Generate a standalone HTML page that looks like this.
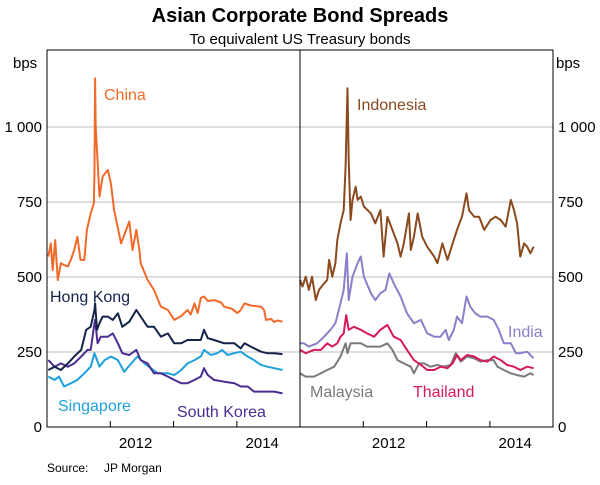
<!DOCTYPE html>
<html><head><meta charset="utf-8"><style>
body{margin:0;background:#fff;}
svg text{font-family:"Liberation Sans",Arial,sans-serif;}
</style></head><body>
<svg id="chart" width="600" height="480" xmlns="http://www.w3.org/2000/svg">
<text x="300" y="22" text-anchor="middle" font-size="20" font-weight="bold">Asian Corporate Bond Spreads</text>
<text x="300" y="44" text-anchor="middle" font-size="15">To equivalent US Treasury bonds</text>
<text x="13" y="68" font-size="15">bps</text>
<text x="556" y="68" font-size="15">bps</text>
<text x="47" y="472" font-size="12">Source:</text>
<text x="104" y="472" font-size="12">JP Morgan</text>
<g id="grid"></g>
<g id="series"></g>
<rect x="47" y="50" width="506" height="377" fill="none" stroke="#000" stroke-width="1"/>
<line x1="300" y1="50" x2="300" y2="427" stroke="#000" stroke-width="1"/>
<g id="labels"></g>
</svg>
<script>
const yTicks=[0,250,500,750,1000];
const yTickLabels=["0","250","500","750","1 000"];
const xTickYears=[2012,2013,2014];
const xLabels=["2012","2014"];
const xLabelYears=[2012.4,2014.4];

const chinaDates=[2011.02,2011.06,2011.09,2011.13,2011.17,2011.22,2011.27,2011.33,2011.38,2011.43,2011.48,2011.53,2011.59,2011.63,2011.69,2011.74,2011.75,2011.76,2011.77,2011.79,2011.83,2011.88,2011.96,2012.01,2012.06,2012.17,2012.22,2012.30,2012.35,2012.41,2012.46,2012.48,2012.59,2012.69,2012.80,2012.91,2013.01,2013.12,2013.22,2013.27,2013.33,2013.38,2013.43,2013.48,2013.54,2013.64,2013.75,2013.80,2013.91,2014.01,2014.06,2014.12,2014.22,2014.38,2014.43,2014.46,2014.54,2014.59,2014.64,2014.72];
const chinaValues=[568,612,523,623,490,546,540,535,560,590,634,557,557,657,712,745,850,1162,1000,923,768,835,857,812,723,612,640,685,590,657,590,546,490,457,401,390,357,370,390,375,412,380,430,435,420,423,415,401,395,380,390,412,405,401,390,357,360,350,355,351];

const hkDates=[2011.02,2011.12,2011.22,2011.33,2011.43,2011.54,2011.62,2011.69,2011.75,2011.76,2011.79,2011.83,2011.88,2011.96,2012.04,2012.12,2012.19,2012.30,2012.41,2012.48,2012.59,2012.69,2012.80,2012.91,2013.01,2013.12,2013.22,2013.33,2013.43,2013.48,2013.54,2013.64,2013.80,2013.96,2014.06,2014.12,2014.22,2014.38,2014.48,2014.59,2014.72];
const hkValues=[190,201,190,212,235,257,324,334,390,412,324,346,368,368,357,379,334,351,390,368,334,334,301,312,279,279,290,290,290,324,296,290,279,279,262,279,268,251,246,246,243];

const koreaDates=[2011.02,2011.12,2011.22,2011.33,2011.43,2011.54,2011.64,2011.69,2011.75,2011.76,2011.80,2011.85,2011.96,2012.04,2012.12,2012.19,2012.30,2012.41,2012.48,2012.59,2012.69,2012.80,2012.91,2013.01,2013.12,2013.22,2013.33,2013.43,2013.48,2013.54,2013.64,2013.80,2013.96,2014.06,2014.17,2014.27,2014.38,2014.48,2014.59,2014.72];
const koreaValues=[223,201,212,201,212,235,257,257,346,357,279,301,301,312,279,246,240,257,223,212,179,179,168,157,146,146,157,168,196,173,157,151,146,135,135,118,118,118,118,112];

const singaporeDates=[2011.02,2011.12,2011.19,2011.27,2011.38,2011.48,2011.59,2011.69,2011.75,2011.77,2011.83,2011.91,2012.01,2012.12,2012.22,2012.33,2012.43,2012.54,2012.64,2012.75,2012.91,2013.01,2013.12,2013.22,2013.33,2013.43,2013.48,2013.59,2013.69,2013.77,2013.85,2013.96,2014.06,2014.17,2014.27,2014.38,2014.48,2014.59,2014.72];
const singaporeValues=[168,157,168,135,146,157,179,201,246,235,201,223,235,223,184,212,235,212,196,179,179,173,190,212,223,235,257,240,246,257,240,246,251,235,223,207,201,196,190];

const indonesiaDates=[2011.00,2011.04,2011.09,2011.14,2011.19,2011.25,2011.30,2011.38,2011.43,2011.46,2011.51,2011.56,2011.59,2011.64,2011.69,2011.72,2011.75,2011.77,2011.80,2011.83,2011.88,2011.91,2011.96,2012.01,2012.12,2012.19,2012.27,2012.32,2012.38,2012.46,2012.54,2012.59,2012.64,2012.72,2012.75,2012.80,2012.86,2012.93,2013.01,2013.12,2013.17,2013.25,2013.33,2013.41,2013.48,2013.56,2013.63,2013.67,2013.75,2013.83,2013.91,2014.01,2014.09,2014.17,2014.25,2014.33,2014.38,2014.43,2014.48,2014.54,2014.59,2014.64,2014.69];
const indonesiaValues=[490,468,501,457,501,423,457,479,490,557,501,546,623,679,723,868,1129,890,690,757,801,757,768,735,712,679,723,568,701,657,612,568,612,712,590,634,712,634,601,568,546,612,557,612,657,701,779,723,701,701,657,690,701,690,668,757,723,679,568,612,601,579,601];

const indiaDates=[2011.00,2011.06,2011.14,2011.27,2011.38,2011.48,2011.56,2011.64,2011.69,2011.74,2011.77,2011.83,2011.91,2011.96,2012.01,2012.12,2012.19,2012.27,2012.35,2012.41,2012.48,2012.59,2012.69,2012.80,2012.91,2013.01,2013.12,2013.22,2013.30,2013.35,2013.43,2013.48,2013.56,2013.63,2013.69,2013.77,2013.85,2013.96,2014.06,2014.14,2014.22,2014.33,2014.41,2014.48,2014.59,2014.69];
const indiaValues=[279,279,268,279,301,324,346,412,457,579,423,501,546,568,501,446,423,446,457,512,479,435,379,346,357,312,301,301,324,290,324,368,346,435,401,379,368,368,357,324,279,279,246,246,251,229];

const thailandDates=[2011.00,2011.09,2011.22,2011.33,2011.43,2011.51,2011.59,2011.64,2011.69,2011.73,2011.77,2011.85,2011.96,2012.06,2012.17,2012.27,2012.38,2012.48,2012.59,2012.69,2012.80,2012.91,2013.01,2013.12,2013.22,2013.33,2013.41,2013.48,2013.54,2013.64,2013.75,2013.85,2013.96,2014.06,2014.17,2014.27,2014.38,2014.48,2014.59,2014.69];
const thailandValues=[257,246,257,257,279,268,279,301,312,373,324,334,324,312,301,324,340,301,290,257,223,207,190,190,201,196,212,240,223,240,235,223,218,235,223,207,201,190,201,196];

const malaysiaDates=[2011.00,2011.09,2011.22,2011.33,2011.43,2011.54,2011.64,2011.72,2011.75,2011.80,2011.88,2011.96,2012.06,2012.17,2012.27,2012.38,2012.46,2012.54,2012.64,2012.75,2012.80,2012.88,2012.96,2013.06,2013.17,2013.27,2013.38,2013.46,2013.54,2013.64,2013.75,2013.85,2013.96,2014.06,2014.12,2014.22,2014.33,2014.43,2014.54,2014.64,2014.69];
const malaysiaValues=[179,168,168,179,190,201,235,279,246,279,279,279,268,268,268,279,257,223,212,201,179,212,212,201,207,201,207,246,218,235,229,218,223,223,201,190,179,173,168,179,173];

const NS="http://www.w3.org/2000/svg";
const svg=document.getElementById('chart');
const PX_PER_YEAR=63.3, TOP=50, BOTTOM=427, YSCALE=0.3;
function yScale(v){return BOTTOM-v*YSCALE;}
function xLeft(t){return 47+(t-2011)*PX_PER_YEAR;}
function xRight(t){return 300+(t-2011)*PX_PER_YEAR;}
function mk(tag,parent){const e=document.createElementNS(NS,tag);parent.appendChild(e);return e;}

const grid=document.getElementById('grid');
yTicks.forEach((v,i)=>{
  if(v>0){
    const l=mk('line',grid);
    
    
    l.setAttribute('x1',47);l.setAttribute('x2',553);
    l.setAttribute('y1',yScale(v));l.setAttribute('y2',yScale(v));
    l.setAttribute('stroke','#bdbdbd');l.setAttribute('stroke-width','1');
  }
  const a=mk('text',svg);
  
  
  a.setAttribute('x',42);a.setAttribute('y',yScale(v)+5);
  a.setAttribute('text-anchor','end');a.setAttribute('font-size','15');
  a.textContent=yTickLabels[i];
  const b=mk('text',svg);
  
  
  b.setAttribute('x',558);b.setAttribute('y',yScale(v)+5);
  b.setAttribute('font-size','15');
  b.textContent=yTickLabels[i];
});
[xLeft,xRight].forEach(sx=>{
  xTickYears.forEach(yr=>{
    const t=mk('line',grid);
    
    
    t.setAttribute('x1',sx(yr));t.setAttribute('x2',sx(yr));
    t.setAttribute('y1',BOTTOM);t.setAttribute('y2',BOTTOM-6);
    t.setAttribute('stroke','#000');
  });
  xLabels.forEach((lab,i)=>{
    const t=mk('text',svg);
    
    
    t.setAttribute('x',sx(xLabelYears[i]));t.setAttribute('y',448);
    t.setAttribute('text-anchor','middle');t.setAttribute('font-size','15');
    t.textContent=lab;
  });
});

const seriesG=document.getElementById('series');
function drawSeries(name,dates,values,sx,color){
  const p=mk('path',seriesG);
  
  
  p.setAttribute('d',dates.map((t,i)=>(i?'L':'M')+sx(t).toFixed(1)+' '+yScale(values[i]).toFixed(1)).join(' '));
  p.setAttribute('fill','none');p.setAttribute('stroke',color);
  p.setAttribute('stroke-width','2');p.setAttribute('stroke-linejoin','round');
}
drawSeries('singapore',singaporeDates,singaporeValues,xLeft,'#1ea0dc');
drawSeries('south-korea',koreaDates,koreaValues,xLeft,'#4b2c91');
drawSeries('hong-kong',hkDates,hkValues,xLeft,'#14234a');
drawSeries('china',chinaDates,chinaValues,xLeft,'#f26a2a');
drawSeries('malaysia',malaysiaDates,malaysiaValues,xRight,'#7a7a7a');
drawSeries('thailand',thailandDates,thailandValues,xRight,'#d6195f');
drawSeries('india',indiaDates,indiaValues,xRight,'#8a7fc8');
drawSeries('indonesia',indonesiaDates,indonesiaValues,xRight,'#8b4a1e');

const lab=document.getElementById('labels');
[['China',104,100,'#f26a2a','label-china'],['Hong Kong',50,302,'#14234a','label-hong-kong'],['Singapore',58,411,'#1ea0dc','label-singapore'],['South Korea',177,417,'#4b2c91','label-south-korea'],['Indonesia',357,110,'#8b4a1e','label-indonesia'],['India',508,337,'#8a7fc8','label-india'],['Malaysia',310,397,'#7a7a7a','label-malaysia'],['Thailand',413,397,'#d6195f','label-thailand']].forEach(d=>{
  const t=mk('text',lab);
  
  
  t.setAttribute('x',d[1]);t.setAttribute('y',d[2]);
  t.setAttribute('font-size','16');t.setAttribute('fill',d[3]);
  t.textContent=d[0];
});
</script>
</body></html>
